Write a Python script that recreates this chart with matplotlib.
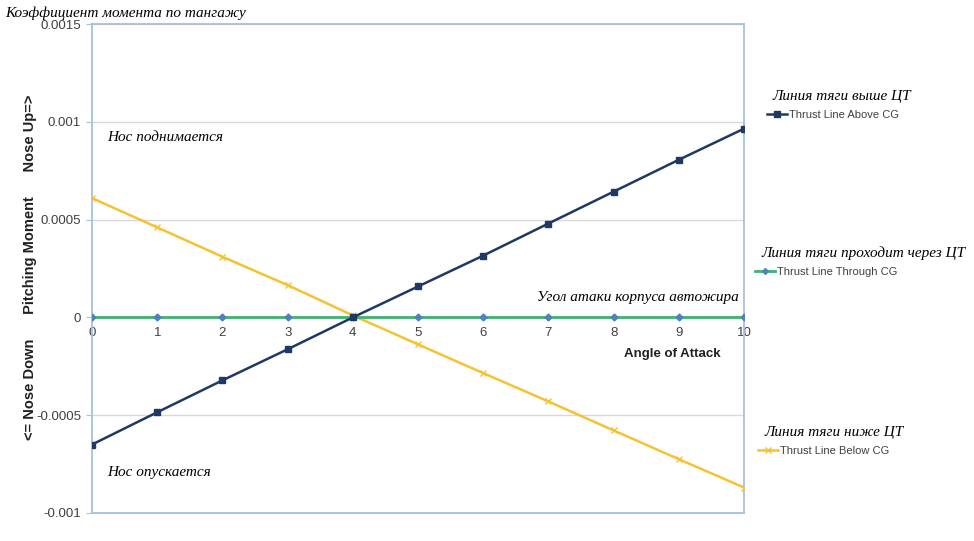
import matplotlib
matplotlib.use('Agg')
import matplotlib.pyplot as plt
from matplotlib.lines import Line2D

# ── Data ──────────────────────────────────────────────────────────────
angles       = [0, 1, 2, 3, 4, 5, 6, 7, 8, 9, 10]
above_cg     = [-0.00065, -0.000485, -0.000322, -0.000163, 0.0, 0.000158,
                0.000316, 0.00048, 0.000643, 0.000806, 0.000965]
through_cg   = [0, 0, 0, 0, 0, 0, 0, 0, 0, 0, 0]
below_cg     = [0.00061, 0.00046, 0.00031, 0.000165, 0.00001, -0.000138,
                -0.000285, -0.00043, -0.000578, -0.000725, -0.00087]
y_ticks      = [-0.001, -0.0005, 0, 0.0005, 0.001, 0.0015]
y_ticklabels = ['-0.001', '-0.0005', '0', '0.0005', '0.001', '0.0015']

NAVY   = '#1f3864'
GREEN  = '#3cb371'
YELLOW = '#f5c232'
BORDER = '#a7c0de'
GRID   = '#d9d9d9'
TICK   = '#404040'

serif_it = dict(family='Liberation Serif', style='italic')
sans     = 'Liberation Sans'
RU_SIZE  = 11

fig = plt.figure(figsize=(9.74, 5.41), dpi=100)
ax = fig.add_axes([0.0945, 0.0518, 0.6694, 0.9038])

ax.plot(angles, below_cg,   color=YELLOW, lw=1.8, marker='x', ms=4, mew=1, zorder=3)
ax.plot(angles, through_cg, color=GREEN,  lw=2.0, marker='D', ms=3.5,
        mfc='#4f81bd', mec='#4f81bd', zorder=3)
ax.plot(angles, above_cg,   color=NAVY,   lw=1.8, marker='s', ms=5, zorder=4)

ax.set_xlim(0, 10)
ax.set_ylim(-0.001, 0.0015)
ax.set_yticks(y_ticks)
ax.set_yticklabels(y_ticklabels, fontfamily=sans, fontsize=9.5, color=TICK)
ax.tick_params(axis='y', length=4, color=BORDER, pad=4)
ax.set_xticks([])
ax.grid(axis='y', color=GRID, lw=1)
ax.set_axisbelow(True)
for s in ax.spines.values():
    s.set_color(BORDER)
    s.set_linewidth(1.3)

# x tick labels sit just under the zero line
sec = ax.secondary_xaxis(0.4)
sec.set_xticks(angles)
sec.set_xticklabels([str(a) for a in angles], fontfamily=sans, fontsize=9.5, color=TICK)
sec.tick_params(length=0, pad=7)
sec.spines['bottom'].set_visible(False)

ax.text(8.9, -0.000185, 'Angle of Attack', fontfamily=sans, fontweight='bold',
        fontsize=9.5, color='#202020', ha='center', va='center')
fig.text(0.031, 0.506, '<= Nose Down      Pitching Moment      Nose Up=>',
         rotation=90, fontfamily=sans, fontweight='bold', fontsize=10.5,
         color='#202020', ha='center', va='center')

# ── Annotations ───────────────────────────────────────────────────────
fig.text(0.005, 0.976, 'Коэффициент момента по тангажу', fontsize=RU_SIZE, va='center', **serif_it)
fig.text(0.110, 0.745, 'Нос поднимается', fontsize=RU_SIZE, va='center', **serif_it)
fig.text(0.110, 0.126, 'Нос опускается', fontsize=RU_SIZE, va='center', **serif_it)
fig.text(0.758, 0.451, 'Угол атаки корпуса автожира', fontsize=RU_SIZE, ha='right',
         va='center', **serif_it)

fig.text(0.793, 0.821, 'Линия тяги выше ЦТ', fontsize=RU_SIZE, va='center', **serif_it)
fig.text(0.782, 0.532, 'Линия тяги проходит через ЦТ', fontsize=RU_SIZE, va='center', **serif_it)
fig.text(0.785, 0.201, 'Линия тяги ниже ЦТ', fontsize=RU_SIZE, va='center', **serif_it)

# ── Legend entries ────────────────────────────────────────────────────
entries = [
    (Line2D([], [], color=NAVY, lw=1.8, marker='s', ms=4), 'Thrust Line Above CG', 0.787, 0.787),
    (Line2D([], [], color=GREEN, lw=2.0, marker='D', ms=3, mfc='#4f81bd', mec='#4f81bd'),
     'Thrust Line Through CG', 0.775, 0.497),
    (Line2D([], [], color=YELLOW, lw=1.8, marker='x', ms=4), 'Thrust Line Below CG', 0.778, 0.166),
]
for handle, label, lx, ly in entries:
    leg = fig.legend(handles=[handle], labels=[label], loc='center left',
                     bbox_to_anchor=(lx, ly), frameon=False, handlelength=1.8,
                     handletextpad=0.2, borderpad=0, borderaxespad=0,
                     prop={'family': sans, 'size': 8})
    for t in leg.get_texts():
        t.set_color(TICK)

fig.savefig('out.png', dpi=100)
plt.close(fig)
